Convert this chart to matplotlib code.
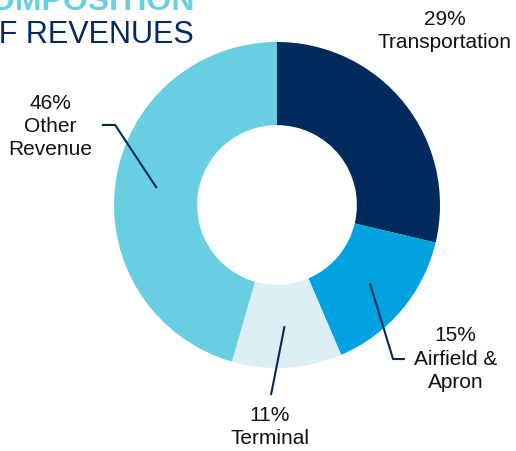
import matplotlib
matplotlib.use("Agg")
import matplotlib.pyplot as plt
import numpy as np

plt.rcParams['font.family'] = ['Liberation Sans', 'DejaVu Sans']

categories = ["Transportation", "Airfield &\nApron", "Terminal", "Other\nRevenue"]
shares = [29, 15, 11, 46]
colors = ["#002B5C", "#00A3E0", "#DAEEF4", "#68CFE2"]
navy = "#002B5C"

# label text centre, elbow point (None = straight line), line end (data units, radius 1)
label_pos = [(1.03, 1.07), (1.095, -0.945), (-0.043, -1.36), (-1.393, 0.48)]
elbows = [None, (0.712, -0.945), None, (-0.993, 0.491)]
line_ends = [None, (0.785, -0.945), (-0.037, -1.166), (-1.074, 0.491)]

W, H = 516, 451
fig = plt.figure(figsize=(W / 100, H / 100), dpi=100)
ax = fig.add_axes([0, 0, 1, 1])

ring = 0.51
wedges, _ = ax.pie(shares, colors=colors, startangle=90, counterclock=False,
                   radius=1, wedgeprops=dict(width=ring, edgecolor='none'))

# map data units onto the pixel layout of the reference (radius 163 px)
R = 163.0
cx, cy = 277.0, 205.0
ax.set_xlim(-cx / R, (W - cx) / R)
ax.set_ylim(-(H - cy) / R, cy / R)
ax.set_aspect('equal')
ax.axis('off')

for i, w in enumerate(wedges):
    txt = "{}%\n{}".format(shares[i], categories[i])
    ax.text(label_pos[i][0], label_pos[i][1], txt, ha='center', va='center',
            fontsize=15, color='#111111', linespacing=1.27)
    if line_ends[i] is None:
        continue
    mid = np.deg2rad((w.theta1 + w.theta2) / 2)
    rm = 1 - ring / 2
    pts = [(rm * np.cos(mid), rm * np.sin(mid))]
    if elbows[i] is not None:
        pts.append(elbows[i])
    pts.append(line_ends[i])
    xs, ys = zip(*pts)
    ax.plot(xs, ys, color=navy, lw=1.5, solid_capstyle='butt')

fig.text(195 / W, 1 - 10 / H, "COMPOSITION", ha='right', va='baseline',
         fontsize=23, fontweight='bold', color="#68CFE2")
fig.text(-25 / W, 1 - 43 / H, "OF REVENUES", ha='left', va='baseline',
         fontsize=22, color=navy)

fig.savefig("out.png", dpi=100)
